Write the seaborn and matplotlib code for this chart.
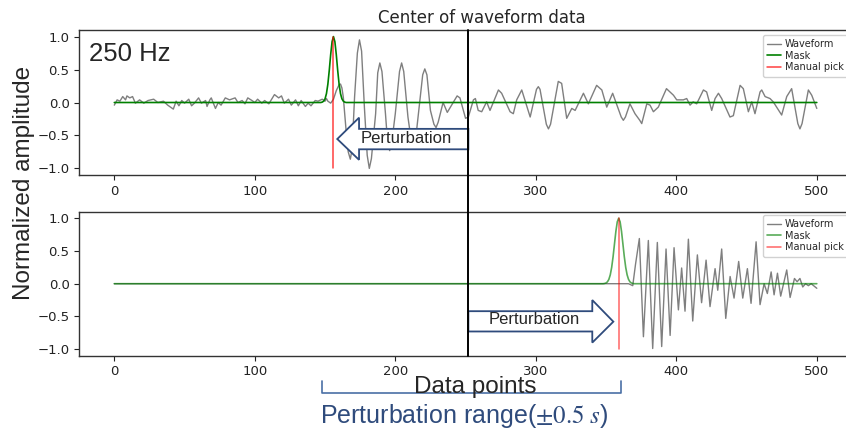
import numpy as np
import matplotlib
matplotlib.use("Agg")
import matplotlib.pyplot as plt
import seaborn as sns
from matplotlib.patches import Polygon
from matplotlib.lines import Line2D

# ---------------- data ----------------
# top panel: waveform (sample index, normalized amplitude)
top_wave_x = [0, 2, 4, 6, 8, 9, 11, 13, 15, 18, 21, 24, 28, 31, 35, 38, 42, 44, 46, 48, 50, 53,
              55, 57, 60, 62, 65, 66, 68, 69, 72, 74, 76, 79, 82, 86, 88, 91, 93, 95, 98, 100,
              102, 105, 107, 110, 112, 114, 117, 119, 121, 124, 126, 129, 131, 133, 136, 138,
              140, 143, 145, 148, 150, 151, 152, 154, 156, 158, 160, 161, 162, 163, 165, 166.5,
              168, 169.3, 171, 173, 174.5, 176, 178, 180, 181.5, 183, 186, 187.5, 189, 190.5,
              193, 194.5, 196, 197.5, 200, 203, 204.5, 206, 209, 211.5, 213, 214.5, 217, 219.5,
              221, 222.5, 225, 227.5, 229, 230.5, 234, 237, 244, 246, 250,
              252, 255.6, 257, 259, 261.5, 265, 267.4, 273.4, 275.7, 281.7, 284, 286.4, 290, 296,
              300.5, 301.8, 303, 307.5, 309, 310.5, 316, 318.4, 322, 325.6, 328, 333.9, 337.4,
              343.3, 347, 350.5, 354.7, 360.8, 362.3, 363.8, 367, 370.6, 374, 375.4, 379, 381.3,
              383.7, 387.2, 393, 398, 400.3, 405, 407.4, 409.8, 412, 414.5, 419.3, 421.6, 425.2,
              427.6, 430, 432.3, 438.2, 440.6, 445.4, 447.7, 451.3, 453.7, 456, 459.6, 460.8,
              463.2, 466.7, 469, 475, 478.6, 482.1, 486.5, 488, 489.5, 494, 496.4, 498.7, 500]
top_wave_y = [-0.04, 0.04, 0.02, 0.09, 0.04, 0.10, 0.07, 0.09, -0.01, 0.04, -0.01, 0.03, 0.05,
              0.0, 0.02, -0.04, -0.10, 0.02, -0.05, 0.03, -0.01, 0.05, -0.05, -0.01, 0.07, -0.01,
              0.03, -0.06, 0.04, 0.07, -0.09, 0.0, -0.04, 0.07, 0.04, 0.07, 0.0, 0.03, -0.02, 0.07,
              0.03, 0.0, 0.05, -0.01, 0.03, -0.02, 0.05, 0.12, 0.07, 0.10, -0.01, 0.05, -0.04,
              0.04, -0.05, 0.03, -0.06, -0.01, -0.05, 0.03, 0.02, 0.05, 0.02, 0.06, 0.02, -0.01,
              0.05, 0.18, 0.27, 0.28, 0.22, 0.08, -0.43, -0.75, -0.86, -0.70, 0.08, 0.75, 0.95,
              0.78, -0.07, -0.80, -1.0, -0.85, -0.17, 0.45, 0.60, 0.47, -0.17, -0.60, -0.73,
              -0.60, -0.17, 0.47, 0.60, 0.47, -0.22, -0.60, -0.68, -0.55, -0.07, 0.42, 0.51,
              0.42, -0.12, -0.33, -0.38, -0.30, 0.0, -0.15, 0.10, 0.07, -0.24,
              -0.22, 0.04, 0.06, -0.12, -0.14, 0.01, -0.12, 0.19, 0.14, -0.14, -0.17, 0.04, 0.19,
              -0.22, 0.20, 0.24, 0.20, -0.33, -0.40, -0.33, 0.32, 0.29, -0.24, -0.09, -0.12,
              0.14, -0.02, 0.26, 0.19, -0.07, 0.14, -0.22, -0.27, -0.22, -0.02, -0.17, -0.27,
              -0.32, -0.02, -0.04, -0.14, -0.07, 0.21, 0.11, 0.04, 0.04, 0.06, -0.04, 0.01, -0.02,
              0.19, 0.16, -0.12, 0.06, 0.14, 0.06, -0.22, -0.20, 0.26, 0.21, -0.14, 0.01, -0.17,
              0.16, 0.19, 0.09, 0.06, 0.01, -0.19, 0.09, 0.21, -0.32, -0.40, -0.32, 0.19, 0.11,
              -0.02, -0.09]

# top panel: mask (Gaussian around the pick)
top_mask_x = [0, 147, 148, 149, 150, 151, 152, 153, 154, 155, 156, 157, 158, 159, 160, 161, 162,
              163, 164, 165, 500]
top_mask_y = [0, 0, 0.006, 0.02, 0.056, 0.135, 0.278, 0.487, 0.726, 0.923, 1.0, 0.923, 0.726,
              0.487, 0.278, 0.135, 0.056, 0.02, 0.006, 0, 0]
top_pick = 156

# bottom panel: waveform
bot_wave_x = [0, 366, 369, 371, 373.7, 376.6, 380.1, 383.2, 386.5, 389.6, 392.7, 395.6, 398.4,
              401.5, 403.8, 406.2, 408.6, 411.7, 415, 418, 421.2, 424, 427.6, 429.5, 432.3, 435.2,
              438.3, 441.1, 444.4, 447.3, 450.6, 453.2, 456.8, 459.6, 462.5, 464.8, 467.5, 469.6,
              472, 474.3, 478.6, 481, 484.1, 486, 488, 490, 492, 494, 496, 500]
bot_wave_y = [0, 0, -0.03, 0.30, 0.69, -0.81, 0.66, -0.99, 0.63, -0.96, 0.53, -0.79, 0.55, -0.40,
              0.24, -0.42, 0.68, -0.57, 0.44, -0.29, 0.36, -0.35, 0.23, -0.10, 0.53, -0.53, 0.11,
              -0.22, 0.34, -0.22, 0.23, -0.30, 0.64, -0.32, 0.0, -0.15, 0.18, -0.17, 0.16, -0.19,
              0.21, -0.21, 0.08, 0.03, 0.08, -0.05, 0.0, -0.03, 0.0, -0.07]

bot_mask_x = [0, 348, 349, 350, 351, 352, 353, 354, 355, 356, 357, 358, 359, 360, 361, 362, 363,
              364, 365, 366, 367, 368, 369, 370, 500]
bot_mask_y = [0, 0, 0.004, 0.011, 0.029, 0.066, 0.135, 0.249, 0.411, 0.607, 0.801, 0.946, 1.0,
              0.946, 0.801, 0.607, 0.411, 0.249, 0.135, 0.066, 0.029, 0.011, 0.004, 0, 0]
bot_pick = 359

x_ticks = [0, 100, 200, 300, 400, 500]
y_ticks = [-1.0, -0.5, 0.0, 0.5, 1.0]
center_x = 252
legend_labels = ["Waveform", "Mask", "Manual pick"]

# ---------------- styling ----------------
sns.set_style("ticks")
plt.rcParams.update({
    "font.family": ["DejaVu Sans"],
    "axes.edgecolor": "#333333",
    "axes.linewidth": 1.0,
    "xtick.color": "#222222",
    "ytick.color": "#222222",
    "xtick.major.size": 3.5,
    "ytick.major.size": 3.5,
    "xtick.major.width": 0.8,
    "ytick.major.width": 0.8,
    "xtick.labelsize": 9.5,
    "ytick.labelsize": 9.5,
    "mathtext.fontset": "stix",
})
ARIAL = ["Liberation Sans", "DejaVu Sans"]
NAVY = "#2f4b7c"

W, H = 846, 433
AX_L, AX_R = 79.3, 900.0          # axes extend past the right edge (cropped like the reference)
X0_PX, PX_PER = 114.3, 1.405      # pixel of x=0 and pixels per sample
fig = plt.figure(figsize=(W / 100, H / 100), dpi=100)
ax_top = fig.add_axes([AX_L / W, 1 - 175 / H, (AX_R - AX_L) / W, 145 / H])
ax_bot = fig.add_axes([AX_L / W, 1 - 355.7 / H, (AX_R - AX_L) / W, 144 / H])

xlim = ((AX_L - X0_PX) / PX_PER, (AX_R - X0_PX) / PX_PER)
leg_x = (762.7 - AX_L) / (AX_R - AX_L)

panels = [
    (ax_top, top_wave_x, top_wave_y, top_mask_x, top_mask_y, top_pick, 1.0, 0.9655),
    (ax_bot, bot_wave_x, bot_wave_y, bot_mask_x, bot_mask_y, bot_pick, 0.65, 0.977),
]
for ax, wx, wy, mx, my, pk, a, ly in panels:
    sns.lineplot(x=wx, y=wy, ax=ax, color="#7f7f7f", lw=1.0, estimator=None, sort=False,
                 label=legend_labels[0])
    sns.lineplot(x=mx, y=my, ax=ax, color="green", lw=1.2, alpha=a, estimator=None, sort=False,
                 label=legend_labels[1])
    sns.lineplot(x=[pk, pk], y=[-1, 1], ax=ax, color="red", lw=1.1,
                 alpha=0.75 if a == 1 else 0.6, estimator=None, sort=False,
                 label=legend_labels[2])
    ax.set_xlim(*xlim)
    ax.set_ylim(-1.1, 1.1)
    ax.set_xticks(x_ticks)
    ax.set_yticks(y_ticks)
    ax.set_xlabel("")
    ax.set_ylabel("")
    ax.spines["right"].set_visible(False)
    ax.patch.set_visible(False)
    ax.legend(loc="upper left", bbox_to_anchor=(leg_x, ly), borderaxespad=0, fontsize=7,
              handlelength=1.4, handletextpad=0.45, labelspacing=0.15, borderpad=0.45,
              framealpha=0.9)

# arrows (white-filled, navy outline)
top_arrow = [(158.7, -0.554), (174.2, -0.23), (174.2, -0.40), (center_x, -0.40),
             (center_x, -0.71), (174.2, -0.71), (174.2, -0.87)]
ax_top.add_patch(Polygon(top_arrow, closed=True, facecolor="white", edgecolor=NAVY, lw=1.3,
                         zorder=5))
ax_top.text(208.1, -0.615, "Perturbation", family=ARIAL, fontsize=12, ha="center",
            va="baseline", zorder=6)

bot_arrow = [(center_x, -0.42), (340.2, -0.42), (340.2, -0.25), (355.2, -0.58), (340.2, -0.90),
             (340.2, -0.73), (center_x, -0.73)]
ax_bot.add_patch(Polygon(bot_arrow, closed=True, facecolor="white", edgecolor=NAVY, lw=1.3,
                         zorder=5))
ax_bot.text(298.9, -0.623, "Perturbation", family=ARIAL, fontsize=12, ha="center",
            va="baseline", zorder=6)

# vertical center line across both panels
inv = fig.transFigure.inverted()
xc = inv.transform(ax_top.transData.transform((center_x, 0)))[0]
y_top = ax_top.get_position().y1
y_bot = ax_bot.get_position().y0
fig.add_artist(Line2D([xc, xc], [y_bot, y_top], transform=fig.transFigure, color="black",
                      lw=1.4, zorder=10))

# bracket for perturbation range
bx0 = inv.transform(ax_bot.transData.transform((147.6, 0)))[0]
bx1 = inv.transform(ax_bot.transData.transform((360.6, 0)))[0]
by_hi = 1 - 381 / H
by_lo = 1 - 392.7 / H
fig.add_artist(Line2D([bx0, bx0, bx1, bx1], [by_hi, by_lo, by_lo, by_hi],
                      transform=fig.transFigure, color="#4a6fa5", lw=1.2))

# texts
fig.text(482 / W, 1 - 22.7 / H, "Center of waveform data", fontsize=12, ha="center",
         va="baseline")
fig.text(89 / W, 1 - 61 / H, "250 Hz", family=ARIAL, fontsize=18.5, ha="left", va="baseline")
fig.text(24 / W, 1 - 182.5 / H, "Normalized amplitude", family=ARIAL, fontsize=17.5,
         rotation=90, ha="center", va="center")
fig.text(475 / W, 1 - 393 / H, "Data points", family=ARIAL, fontsize=17.5, ha="center",
         va="baseline")
fig.text(464.5 / W, 1 - 423.5 / H, r"Perturbation range($\pm0.5\ s$)", family=ARIAL,
         fontsize=18, color=NAVY, ha="center", va="baseline")

fig.savefig("out.png", dpi=100)
